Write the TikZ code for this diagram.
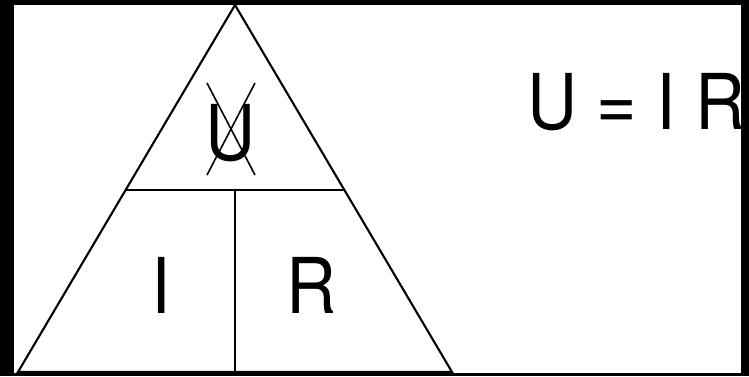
\documentclass[tikz,border=0pt]{standalone}
\usepackage{fontspec}
\setmainfont{TeX Gyre Heros}

\begin{document}
\begin{tikzpicture}[x=1pt,y=-1pt,
  letter/.style={font=\fontsize{77}{77}\selectfont,inner sep=0pt,anchor=base,xscale=0.9},
  edge/.style={line width=2.1pt,line join=miter}]
  \useasboundingbox (0,0) rectangle (749,376);
  \fill[black] (0,0) rectangle (749,376);
  \fill[white] (14,5) rectangle (741,373);
  \begin{scope}
    \clip (14,5) rectangle (741,373);
    % triangle corners
    \coordinate (apex) at (235,5);
    \coordinate (bl) at (18,372);
    \coordinate (br) at (452,372);
    \coordinate (ml) at (126,190);
    \coordinate (mr) at (344,190);
    \coordinate (mc) at (235,190);
    \coordinate (bc) at (235,372);
    \draw[edge] (apex) -- (bl) -- (br) -- cycle;
    \draw[edge] (ml) -- (mr);
    \draw[edge] (mc) -- (bc);
    % letters
    \node[letter] (u) at (231,160) {U};
    \node[letter] (i) at (161.5,313) {I};
    \node[letter] (r) at (312,313) {R};
    % crossed out
    \draw[line width=1.6pt] (207,83) -- (255,175);
    \draw[line width=1.6pt] (255,83) -- (207,175);
    % formula
    \node[letter,anchor=base west] (law) at (527.5,129) {U = I R};
  \end{scope}
\end{tikzpicture}
\end{document}
